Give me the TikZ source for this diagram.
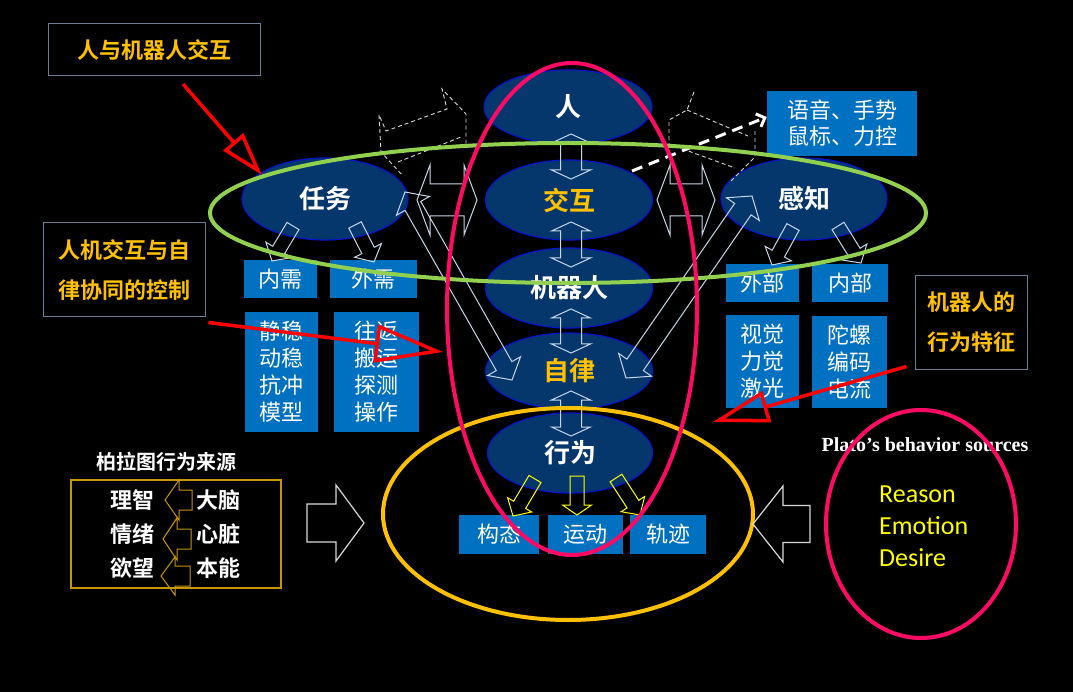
\documentclass[tikz,border=0pt]{standalone}
\usepackage{fontspec}
\setmainfont{Liberation Serif}
\newfontfamily\cjk{Noto Sans CJK SC}
\newfontfamily\cjkb{Noto Sans CJK SC Bold}
\newfontfamily\carl{Carlito}
\usetikzlibrary{calc,arrows.meta,shapes.geometric}
\definecolor{navy}{RGB}{5,55,108}
\definecolor{eblue}{RGB}{10,20,200}
\definecolor{boxblue}{RGB}{0,112,192}
\definecolor{gold}{RGB}{255,192,0}
\definecolor{lgreen}{RGB}{146,208,80}
\definecolor{hpink}{RGB}{255,10,100}
\definecolor{lblue}{RGB}{200,215,235}
\definecolor{frame}{RGB}{110,125,150}
\definecolor{dgold}{RGB}{200,150,0}
\definecolor{yel}{RGB}{255,255,0}
% single block arrow: style, start, end, half shaft, half head, head length
\newcommand\blk[6]{%
  \path (#2) coordinate (bkS) (#3) coordinate (bkE);
  \path ($(bkE)!#6pt!(bkS)$) coordinate (bkH);
  \draw[#1] ($(bkS)!#4pt!90:(bkE)$) -- ($(bkH)!#4pt!-90:(bkS)$) -- ($(bkH)!#5pt!-90:(bkS)$) -- (bkE)
    -- ($(bkH)!#5pt!90:(bkS)$) -- ($(bkH)!#4pt!90:(bkS)$) -- ($(bkS)!#4pt!-90:(bkE)$) -- cycle;}
% double block arrow
\newcommand\dblk[6]{%
  \path (#2) coordinate (bkS) (#3) coordinate (bkE);
  \path ($(bkE)!#6pt!(bkS)$) coordinate (bkH) ($(bkS)!#6pt!(bkE)$) coordinate (bkG);
  \draw[#1] (bkS) -- ($(bkG)!#5pt!90:(bkE)$) -- ($(bkG)!#4pt!90:(bkE)$) -- ($(bkH)!#4pt!-90:(bkS)$)
    -- ($(bkH)!#5pt!-90:(bkS)$) -- (bkE) -- ($(bkH)!#5pt!90:(bkS)$) -- ($(bkH)!#4pt!90:(bkS)$)
    -- ($(bkG)!#4pt!-90:(bkE)$) -- ($(bkG)!#5pt!-90:(bkE)$) -- cycle;}
\begin{document}
\begin{tikzpicture}[x=1pt,y=-1pt,
  ell/.style={ellipse, fill=navy, draw=eblue, line width=1.2pt, inner sep=0pt,
    font=\cjkb\fontsize{26}{30}\selectfont},
  bbox/.style={fill=boxblue, text=white, inner sep=0pt, align=center,
    font=\cjk\fontsize{22}{27}\selectfont},
  lbl/.style={draw=frame, line width=1pt, text=gold, inner sep=0pt, align=center,
    font=\cjkb\fontsize{22}{40}\selectfont},
  wtxt/.style={text=white, font=\cjkb\fontsize{22}{26}\selectfont, inner sep=0pt},
  redarr/.style={draw=red, line width=3.5pt},
  dsh/.style={draw=white!85!black, line width=0.9pt, dash pattern=on 4pt off 3pt},
  thinw/.style={draw=lblue, line width=1pt},
  ring/.style={draw, line width=4pt},
]
\fill[black] (0,0) rectangle (1073,692);
\useasboundingbox (0,0) rectangle (1073,692);

% central ellipses
\node[ell, minimum width=168, minimum height=74, text=white] (ren) at (568,107) {人};
\node[ell, minimum width=167, minimum height=80, text=gold] (jh) at (569,200) {交互};
\node[ell, minimum width=167, minimum height=80, text=white] (jqr) at (569,288) {机器人};
\node[ell, minimum width=167, minimum height=76, text=gold] (zl) at (569,371) {自律};
\node[ell, minimum width=165, minimum height=80, text=white] (xw) at (570,453) {行为};
\node[ell, minimum width=166, minimum height=82, text=white] (rw) at (325,199) {任务};
\node[ell, minimum width=166, minimum height=82, text=white] (gz) at (804,199) {感知};

% blue boxes
\node[bbox, minimum width=73, minimum height=38] (nx) at (280.5,279) {内需};
\node[bbox, minimum width=87, minimum height=38] (wx) at (373.5,279) {外需};
\node[bbox, minimum width=73, minimum height=120] (jw) at (281.5,372) {静稳\\动稳\\抗冲\\模型};
\node[bbox, minimum width=85, minimum height=120] (wf) at (376.5,372) {往返\\搬运\\探测\\操作};
\node[bbox, minimum width=73, minimum height=38] (wb) at (762.5,283) {外部};
\node[bbox, minimum width=76, minimum height=38] (nb) at (850,283) {内部};
\node[bbox, minimum width=73, minimum height=93] (sj) at (762.5,361.5) {视觉\\力觉\\激光};
\node[bbox, minimum width=75, minimum height=92] (tl) at (849.5,362) {陀螺\\编码\\电流};
\node[bbox, minimum width=150, minimum height=65, font=\cjk\fontsize{22}{26}\selectfont] (yy) at (842,123.5) {语音、手势\\鼠标、力控};
\node[bbox, minimum width=80, minimum height=39] (gt) at (499,534.5) {构态};
\node[bbox, minimum width=75, minimum height=39] (yd) at (585.5,534.5) {运动};
\node[bbox, minimum width=76, minimum height=39] (gj) at (668,534.5) {轨迹};

% central vertical double arrows
\dblk{thinw}{571,134}{571,179}{10.5}{19.5}{9}
\dblk{thinw}{571,222}{571,267}{10.5}{19.5}{9}
\dblk{thinw}{571,309}{571,353}{10.5}{19.5}{9}
\dblk{thinw}{571,391}{571,436}{10.5}{19.5}{9}
% horizontal double arrows
\dblk{thinw}{417,200}{477,200}{16}{35}{13}
\dblk{thinw}{657,200}{715,200}{16}{35}{13}
% diagonal thin double arrows
\dblk{thinw}{405,192}{512,380}{9}{19}{16}
\dblk{thinw}{752,196}{626,378}{10}{20}{16}
% arrows down to boxes
\blk{thinw}{293,226}{272,261}{7}{15}{13}
\blk{thinw}{355,225}{374,262}{7}{15}{13}
\blk{thinw}{793,227}{772,265}{7}{15}{13}
\blk{thinw}{838,226}{861,263}{7}{15}{13}
% yellow arrows
\blk{draw=yel, line width=1pt}{535,479}{513,516}{7}{14}{13}
\blk{draw=yel, line width=1pt}{577,476}{577,515}{7}{14.5}{10}
\blk{draw=yel, line width=1pt}{616,478}{640,515}{7}{14}{13}

% dashed 3D shapes
\draw[dsh] (379,115) -- (381,152) -- (403,176);
\draw[dsh] (380,117) -- (386,131) -- (447,109) -- (442,89) -- (466,114) -- (466,148);
\draw[dsh] (398,162) -- (461,137);
\draw[dsh] (694,92) -- (687,110) -- (669,120) -- (669,150);
\draw[dsh] (687,110) -- (748,136);
\draw[dsh] (755,131) -- (755,157) -- (731,181);
\draw[dsh] (669,144) -- (735,168);

% white dashed arrow to input box
\coordinate (da) at (632,171);
\draw[white, line width=3pt, dash pattern=on 11pt off 7pt, -{Straight Barb[length=7pt,width=14pt]}] (da) -- (yy.west |- 0,117);

% big outline ellipses
\draw[ring, lgreen] (568,213) ellipse [x radius=358, y radius=70];
\draw[ring, gold] (568,514) ellipse [x radius=185, y radius=106];
\draw[ring, hpink] (572,309) ellipse [x radius=125, y radius=246];

% label boxes
\node[lbl, minimum width=212, minimum height=52] (l1) at (154,50) {人与机器人交互};
\node[lbl, minimum width=162, minimum height=94] (l2) at (124,270) {人机交互与自\\律协同的控制};
\node[lbl, minimum width=112, minimum height=93] (l3) at (971,322.5) {机器人的\\行为特征};

% red arrows
\coordinate (r1) at (262,175);
\coordinate (r2) at (443,352);
\coordinate (r3) at (713,422);
\draw[redarr, -{Triangle[open, length=44pt, width=26pt]}] (183,84) -- (r1);
\draw[redarr, -{Triangle[open, length=68pt, width=38pt]}] (l2.south east) ++(3,5) -- (r2);
\draw[redarr, -{Triangle[open, length=56pt, width=32pt]}] (l3.south west) ++(-8,-3) -- (r3);

% Plato sources (Chinese)
\node[wtxt, font=\cjkb\fontsize{20}{24}\selectfont] (pt) at (166,462) {柏拉图行为来源};
\draw[draw=dgold, line width=1.2pt] (71,480) rectangle (281,588);
\node[wtxt] (lz) at (132,500) {理智};
\node[wtxt] (qx) at (132,534) {情绪};
\node[wtxt] (yw) at (132,568) {欲望};
\node[wtxt] (dn) at (218,500) {大脑};
\node[wtxt] (xz) at (218,534) {心脏};
\node[wtxt] (bn) at (218,568) {本能};
\blk{draw=dgold, line width=1pt}{192,500}{165,500}{10}{20}{14}
\blk{draw=dgold, line width=1pt}{191,539}{163,539}{10}{21}{14}
\blk{draw=dgold, line width=1pt}{190,576}{161,576}{10}{19}{14}

% big white block arrows
\blk{draw=white!85!black, line width=1.2pt}{307,523}{364,523}{19}{38}{28}
\blk{draw=white!85!black, line width=1.2pt}{810,524}{753,524}{18.5}{38}{30}

% Plato sources (English)
\node[text=white, font=\bfseries\fontsize{20}{24}\selectfont, inner sep=0pt] (pe) at (925,445) {Plato’s behavior sources};
\draw[ring, hpink] (921,524) ellipse [x radius=95, y radius=114];
\node[text=yel, font=\carl\fontsize{26}{32}\selectfont, anchor=west, inner sep=0pt] (rs) at (879,494) {Reason};
\node[text=yel, font=\carl\fontsize{26}{32}\selectfont, anchor=west, inner sep=0pt] (em) at (879,526) {Emotion};
\node[text=yel, font=\carl\fontsize{26}{32}\selectfont, anchor=west, inner sep=0pt] (ds) at (879,558) {Desire};
\end{tikzpicture}
\end{document}
